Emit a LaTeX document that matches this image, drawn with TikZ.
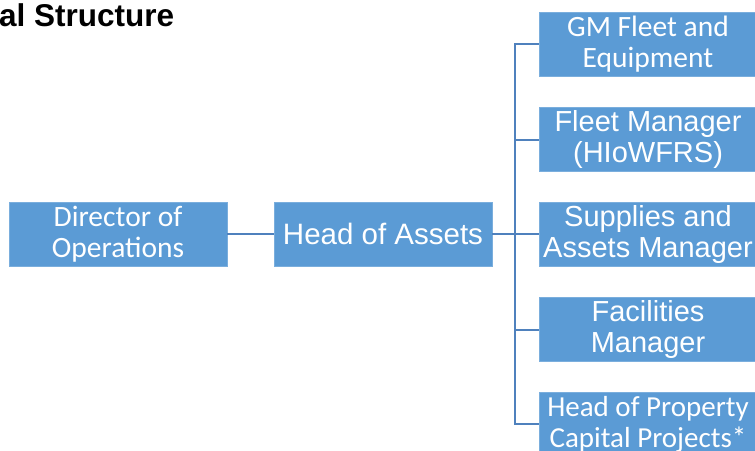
\documentclass[tikz,border=0pt]{standalone}
\usepackage{fontspec}
\setmainfont{Carlito}
\newfontfamily\arialf{Liberation Sans}
\definecolor{boxblue}{HTML}{5B9BD5}
\definecolor{boxedge}{HTML}{7AAEDD}
\definecolor{linkblue}{HTML}{4F81BD}
\begin{document}
\begin{tikzpicture}[x=1pt,y=-1pt,
  orgbox/.style={fill=boxblue,draw=boxedge,line width=0.6pt,minimum width=218pt,minimum height=64pt,
    inner sep=0pt,align=center,text=white},
  cal/.style={font=\fontsize{29.5}{31}\selectfont},
  calsmall/.style={font=\fontsize{29}{31}\selectfont},
  ari/.style={font=\arialf\fontsize{29}{31}\selectfont},
  arilarge/.style={font=\arialf\fontsize{29.5}{33}\selectfont},
  link/.style={draw=linkblue,line width=2pt}]
\useasboundingbox (0,0) rectangle (755,450);
\clip (0,0) rectangle (755,450);
\node[anchor=base west,inner sep=0pt,font=\arialf\bfseries\fontsize{31.5}{34}\selectfont] (title) at (-1,26) {al Structure};
\node[orgbox,cal] (dir) at (118,234) {Director of\\Operations};
\node[orgbox,arilarge] (head) at (383,234) {Head of Assets};
\node[orgbox,cal] (b1) at (648,44) {GM Fleet and\\Equipment};
\node[orgbox,ari] (b2) at (648,139.5) {Fleet Manager\\(HIoWFRS)};
\node[orgbox,ari] (b3) at (648,234.5) {Supplies and\\Assets Manager};
\node[orgbox,ari] (b4) at (648,329.5) {Facilities\\Manager};
\node[orgbox,calsmall] (b5) at (648,424) {Head of Property\\Capital Projects*};
\coordinate (bus) at (515,234);
\draw[link] (dir.east) -- (head.west);
\draw[link] (head.east) -- (head.east -| b3.west);
\draw[link] (b1.west) -- (b1.west -| bus) -- (b5.west -| bus) -- (b5.west);
\draw[link] (b2.west) -- (b2.west -| bus);
\draw[link] (b4.west) -- (b4.west -| bus);
\end{tikzpicture}
\end{document}
